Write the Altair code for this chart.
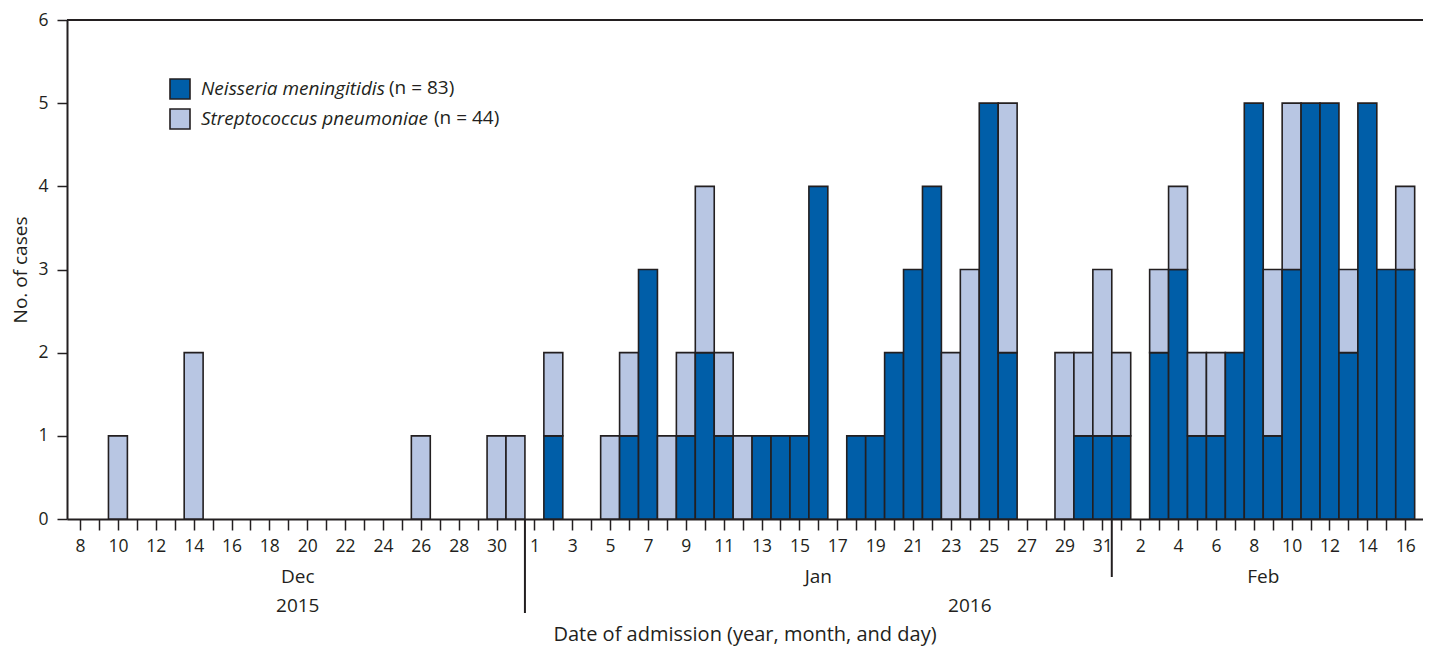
import altair as alt
import pandas as pd

# ---- data ----
day_labels = ([str(d) for d in range(8, 32)] +      # Dec 8-31 2015
              [str(d) for d in range(1, 32)] +      # Jan 2016
              [str(d) for d in range(1, 17)])       # Feb 1-16 2016
months = ["Dec"] * 24 + ["Jan"] * 31 + ["Feb"] * 16

nm = ([0, 0, 0, 0, 0, 0, 0, 0, 0, 0, 0, 0, 0, 0, 0, 0, 0, 0, 0, 0, 0, 0, 0, 0] +
      [0, 1, 0, 0, 0, 1, 3, 0, 1, 2, 1, 0, 1, 1, 1, 4, 0, 1, 1, 2, 3, 4, 0, 0, 5, 2, 0, 0, 0, 1, 1] +
      [1, 0, 2, 3, 1, 1, 2, 5, 1, 3, 5, 5, 2, 5, 3, 3])
sp = ([0, 0, 1, 0, 0, 0, 2, 0, 0, 0, 0, 0, 0, 0, 0, 0, 0, 0, 1, 0, 0, 0, 1, 1] +
      [0, 1, 0, 0, 1, 1, 0, 1, 1, 2, 1, 1, 0, 0, 0, 0, 0, 0, 0, 0, 0, 0, 2, 3, 0, 3, 0, 0, 2, 1, 2] +
      [1, 0, 1, 1, 1, 1, 0, 0, 2, 2, 0, 0, 1, 0, 0, 1])

species = ["Neisseria meningitidis", "Streptococcus pneumoniae"]
n_labels = ["(n = 83)", "(n = 44)"]
colors = ["#005ea8", "#b8c6e3"]

month_names = ["Dec", "Jan", "Feb"]
years = ["2015", "2016"]

rows = []
for i in range(len(day_labels)):
    rows.append({"idx": i, "species": species[0], "ord": 0, "count": nm[i]})
    rows.append({"idx": i, "species": species[1], "ord": 1, "count": sp[i]})
df = pd.DataFrame(rows)

idx_df = pd.DataFrame({"idx": range(len(day_labels)), "month": months})
month_df = pd.DataFrame({
    "month": month_names,
    "mid": [idx_df[idx_df.month == m].idx.mean() for m in month_names],
})
year_df = pd.DataFrame({
    "year": years,
    "mid": [idx_df[idx_df.month == "Dec"].idx.mean(),
            idx_df[idx_df.month != "Dec"].idx.mean()],
})
bound_df = pd.DataFrame({
    "b": [idx_df[idx_df.month == "Dec"].idx.max() + 0.5,
          idx_df[idx_df.month == "Jan"].idx.max() + 0.5],
})

FONT = "Open Sans"
INK = "#231f20"
label_arr = "[" + ",".join("'" + s + "'" for s in day_labels) + "]"

xscale = alt.Scale(domain=[-0.69, 70.94], nice=False, zero=False)
yscale = alt.Scale(domain=[0, 6], nice=False)

xaxis = alt.Axis(values=list(range(len(day_labels))),
                 labelExpr="datum.value % 2 == 0 ? " + label_arr + "[datum.value] : ''",
                 title=None, grid=False, tickSize=11, tickWidth=1.5,
                 domainWidth=2, domainColor=INK, tickColor=INK,
                 labelFont=FONT, labelFontSize=17.5, labelColor=INK,
                 labelPadding=7, labelFlush=False, labelOverlap=False,
                 labelBound=False)
yaxis = alt.Axis(values=[0, 1, 2, 3, 4, 5, 6], format="d", title="No. of cases",
                 grid=False, tickSize=10, tickWidth=1.5, domainWidth=2,
                 domainColor=INK, tickColor=INK, labelFont=FONT,
                 labelFontSize=17.5, labelColor=INK, labelPadding=9,
                 titleFont=FONT, titleFontSize=19, titleFontWeight="normal",
                 titleColor=INK, titlePadding=7)

bars = alt.Chart(df).transform_filter("datum.count > 0").transform_stack(
    stack="count", groupby=["idx"], as_=["y0", "y1"],
    sort=[alt.SortField("ord", order="ascending")]
).transform_calculate(
    xa="datum.idx - 0.5", xb="datum.idx + 0.5"
).mark_rect(stroke=INK, strokeWidth=1.6).encode(
    x=alt.X("xa:Q", scale=xscale, axis=xaxis),
    x2="xb:Q",
    y=alt.Y("y0:Q", scale=yscale, axis=yaxis),
    y2="y1:Q",
    color=alt.Color("species:N",
                    scale=alt.Scale(domain=species, range=colors),
                    legend=alt.Legend(title=None, orient="none", legendX=102, legendY=58,
                                      symbolType="square", symbolSize=400,
                                      symbolStrokeColor=INK, symbolStrokeWidth=1.6,
                                      symbolOpacity=1, labelLimit=1000,
                                      labelFont=FONT, labelFontSize=19,
                                      labelFontStyle="italic", labelColor=INK,
                                      labelOffset=10, rowPadding=2, padding=0)),
)

top_rule = alt.Chart(alt.Data(values=[{"v": 6}])).mark_rule(
    color=INK, strokeWidth=2).encode(y=alt.Y("v:Q", scale=yscale, axis=yaxis))

nlab_df = pd.DataFrame({"n": n_labels})
n1 = alt.Chart(nlab_df.iloc[[0]]).mark_text(
    font=FONT, fontSize=19, color=INK, align="left", baseline="middle"
).encode(text="n:N", x=alt.value(322), y=alt.value(68))
n2 = alt.Chart(nlab_df.iloc[[1]]).mark_text(
    font=FONT, fontSize=19, color=INK, align="left", baseline="middle"
).encode(text="n:N", x=alt.value(367), y=alt.value(98))

month_text = alt.Chart(month_df).mark_text(
    font=FONT, fontSize=19, color=INK, baseline="middle"
).encode(x=alt.X("mid:Q", scale=xscale, axis=xaxis), y=alt.value(557), text="month:N")

year_text = alt.Chart(year_df).mark_text(
    font=FONT, fontSize=19, color=INK, baseline="middle"
).encode(x=alt.X("mid:Q", scale=xscale, axis=xaxis), y=alt.value(586), text="year:N")

sep1 = alt.Chart(bound_df.iloc[[0]]).mark_rule(color=INK, strokeWidth=2).encode(
    x=alt.X("b:Q", scale=xscale, axis=xaxis), y=alt.value(499), y2=alt.value(593))
sep2 = alt.Chart(bound_df.iloc[[1]]).mark_rule(color=INK, strokeWidth=2).encode(
    x=alt.X("b:Q", scale=xscale, axis=xaxis), y=alt.value(499), y2=alt.value(557))

xtitle = alt.Chart(alt.Data(values=[{"t": "Date of admission (year, month, and day)"}])).mark_text(
    font=FONT, fontSize=20, color=INK, baseline="middle"
).encode(text="t:N", x=alt.value(678), y=alt.value(615))

chart = alt.layer(bars, top_rule, n1, n2, month_text, year_text, sep1, sep2, xtitle).properties(
    width=1356, height=499,
    autosize=alt.AutoSizeParams(type="none"),
    padding={"left": 59, "top": 12, "right": 0, "bottom": 129},
).configure_view(strokeWidth=0).configure(background="white")

chart.save("out.html", embed_options={"renderer": "svg", "actions": False})
